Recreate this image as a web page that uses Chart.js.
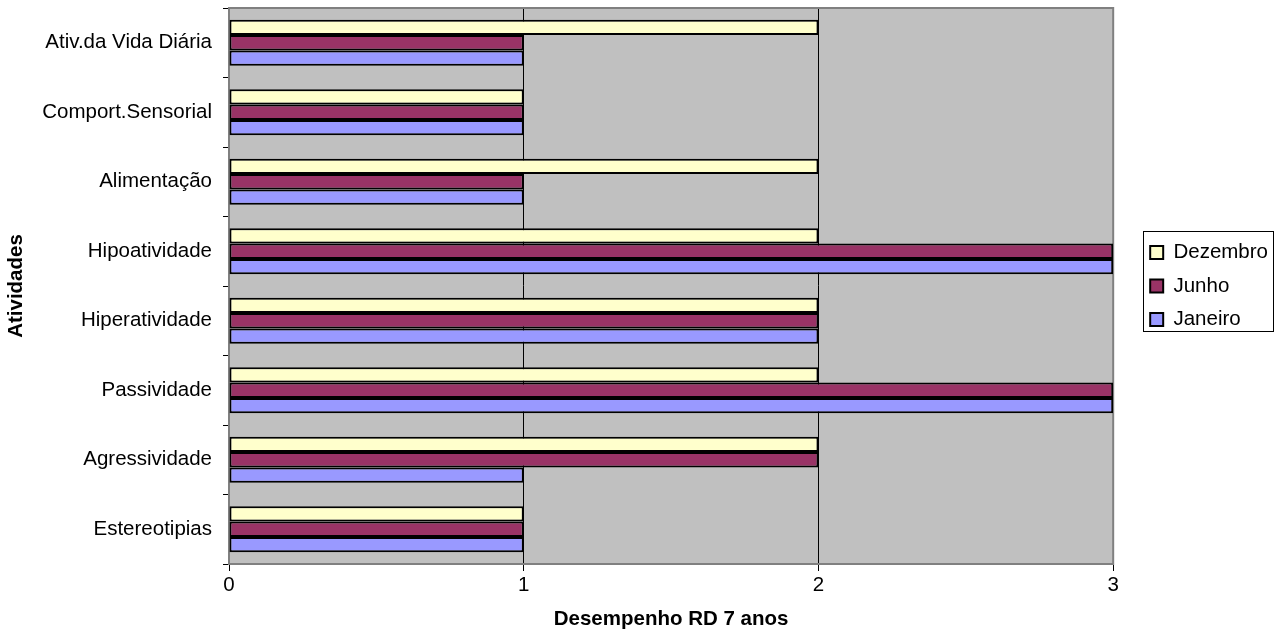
<!DOCTYPE html>
<html>
<head>
<meta charset="utf-8">
<script src="https://cdn.jsdelivr.net/npm/chart.js@4"></script>
<style>
  html, body { margin: 0; padding: 0; background: #fff; }
  #wrap { width: 1284px; height: 640px; }
</style>
</head>
<body>
<div id="wrap"><canvas id="chart" width="1284" height="640"></canvas></div>
<script>
const atividades = ["Ativ.da Vida Diária", "Comport.Sensorial", "Alimentação", "Hipoatividade",
  "Hiperatividade", "Passividade", "Agressividade", "Estereotipias"];
const dezembro = [2, 1, 2, 2, 2, 2, 2, 1];
const junho = [1, 1, 1, 3, 2, 3, 2, 1];
const janeiro = [1, 1, 1, 3, 2, 3, 1, 1];
const xTicks = [0, 1, 2, 3];

const FONT = "'Liberation Sans', Arial, sans-serif";
const FS = 20.5;

// fundo cinza da área de plotagem
const bgPlot = {
  id: "bgPlot",
  beforeDraw(chart) {
    const { ctx, chartArea: a } = chart;
    ctx.save();
    ctx.fillStyle = "#C0C0C0";
    ctx.fillRect(a.left, a.top, a.right - a.left, a.bottom - a.top);
    ctx.restore();
  }
};

// moldura cinza + caixa da legenda (e empurra a legenda para a direita)
const bordas = {
  id: "bordas",
  afterUpdate(chart) {
    const l = chart.legend;
    const dx = 24;
    l.left += dx; l.right += dx;
    l.adjustHitBoxes();
  },
  beforeDatasetsDraw(chart) {
    const { ctx, chartArea: a } = chart;
    ctx.save();
    ctx.strokeStyle = "#808080";
    ctx.lineWidth = 2;
    ctx.strokeRect(a.left, a.top, a.right - a.left, a.bottom - a.top);
    ctx.restore();
  },
  afterDraw(chart) {
    const l = chart.legend;
    const mid = (l.top + l.bottom) / 2;
    const left = Math.round(l.left + 13 - 7);
    const top = Math.round(mid - 55);
    const ctx = chart.ctx;
    ctx.save();
    ctx.strokeStyle = "#000";
    ctx.lineWidth = 1;
    ctx.strokeRect(left + 0.5, top + 0.5, 130, 100);
    ctx.restore();
  }
};

new Chart(document.getElementById("chart"), {
  type: "bar",
  data: {
    labels: atividades,
    datasets: [
      { label: "Dezembro", data: dezembro, backgroundColor: "#FFFFCC" },
      { label: "Junho", data: junho, backgroundColor: "#993366" },
      { label: "Janeiro", data: janeiro, backgroundColor: "#9999FF" }
    ]
  },
  options: {
    indexAxis: "y",
    responsive: false,
    animation: false,
    layout: { padding: { left: 0, top: 8, right: 30, bottom: 4 } },
    datasets: {
      bar: { borderColor: "#000", borderWidth: 2, borderSkipped: false, categoryPercentage: 0.66, barPercentage: 1.0 }
    },
    scales: {
      x: {
        min: 0, max: 3,
        afterBuildTicks(s) { s.ticks = xTicks.map(v => ({ value: v })); },
        ticks: { color: "#000", font: { family: FONT, size: FS }, padding: 2 },
        grid: { color: "#000", lineWidth: 1, tickLength: 7, drawOnChartArea: true },
        border: { color: "#808080", width: 2 },
        title: { display: true, text: "Desempenho RD 7 anos", color: "#000", font: { family: FONT, size: FS, weight: "bold" }, padding: { top: 12 } },
        afterFit(s) { s.height = 72; }
      },
      y: {
        ticks: { color: "#000", font: { family: FONT, size: FS }, padding: 11 },
        grid: { offset: true, drawOnChartArea: false, color: "#000", tickLength: 6 },
        border: { color: "#808080", width: 2 },
        title: { display: true, text: "Atividades", color: "#000", font: { family: FONT, size: FS, weight: "bold" } },
        afterFit(s) { s.width = 229; s.paddingTop = 0; s.paddingBottom = 0; }
      }
    },
    plugins: {
      legend: {
        position: "right",
        fullSize: false,
        labels: {
          color: "#000",
          font: { family: FONT, size: FS },
          boxWidth: 13, boxHeight: 13, padding: 13,
          generateLabels(chart) {
            return chart.data.datasets.map((d, i) => ({
              text: d.label, fillStyle: d.backgroundColor, strokeStyle: "#000",
              lineWidth: 2, datasetIndex: i, hidden: false
            }));
          }
        }
      },
      tooltip: { enabled: false }
    }
  },
  plugins: [bgPlot, bordas]
});
</script>
</body>
</html>
